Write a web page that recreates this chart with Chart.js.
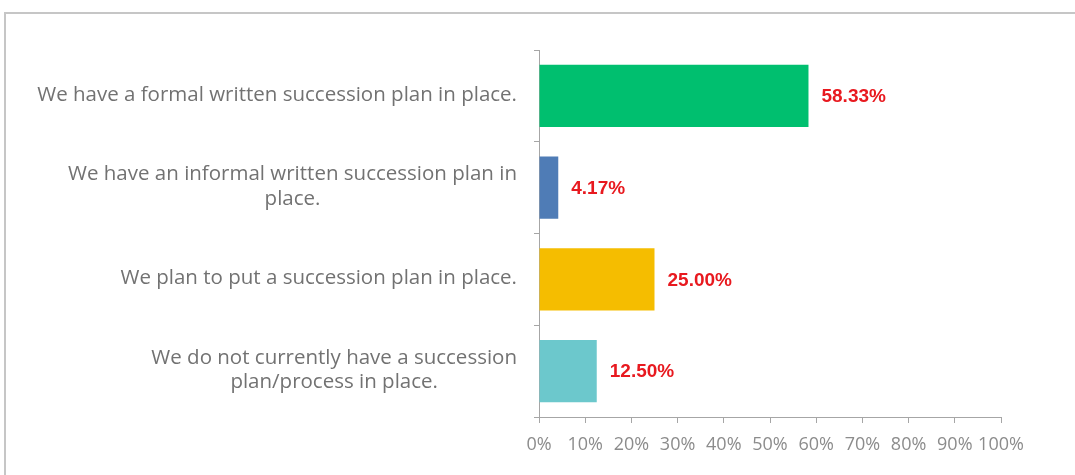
<!DOCTYPE html>
<html>
<head>
<meta charset="utf-8">
<script src="https://cdn.jsdelivr.net/npm/chart.js@4.4.1/dist/chart.umd.min.js"></script>
<style>
  html, body { margin: 0; padding: 0; background: #ffffff; }
  #wrap { position: relative; width: 1075px; height: 475px; }
  #frame {
    position: absolute; left: 4px; top: 12px; right: 0; bottom: 0;
    border-top: 2px solid #c6c6c6; border-left: 2px solid #c6c6c6;
    pointer-events: none;
  }
  canvas { position: absolute; left: 0; top: 0; }
</style>
</head>
<body>
<div id="wrap">
  <div id="frame"></div>
  <canvas id="chart" width="1075" height="475"></canvas>
</div>
<script>
// Survey responses on succession planning
const categories = [
  ["We have a formal written succession plan in place."],
  ["We have an informal written succession plan in", "place."],
  ["We plan to put a succession plan in place."],
  ["We do not currently have a succession", "plan/process in place."]
];
const shares = [58.33, 4.17, 25.00, 12.50];
const barColors = ["#00bf6f", "#4f7cb6", "#f5bd00", "#6cc8cc"];
const axisTicks = [0, 10, 20, 30, 40, 50, 60, 70, 80, 90, 100];

const FONT = '"Open Sans", Lato, sans-serif';
const CAT_FONT_SIZE = 20.5;
const CAT_LINE = 24.5;
const CAT_GAP = 22; // from axis line to right edge of category text

// Category text: block right-aligned against the axis, lines centred within the block
const categoryLabels = {
  id: 'categoryLabels',
  afterDraw(chart) {
    const ctx = chart.ctx;
    const yScale = chart.scales.y;
    const right = chart.chartArea.left - CAT_GAP;
    ctx.save();
    ctx.font = CAT_FONT_SIZE + 'px ' + FONT;
    ctx.fillStyle = '#727272';
    ctx.textAlign = 'center';
    ctx.textBaseline = 'middle';
    categories.forEach((lines, i) => {
      const cy = yScale.getPixelForValue(i) - 1;
      const blockW = Math.max(...lines.map(l => ctx.measureText(l).width));
      const cx = right - blockW / 2;
      const top = cy - (lines.length - 1) * CAT_LINE / 2;
      lines.forEach((l, k) => ctx.fillText(l, cx, top + k * CAT_LINE));
    });
    ctx.restore();
  }
};

// Writes each bar's value just past its end
const valueLabels = {
  id: 'valueLabels',
  afterDatasetsDraw(chart) {
    const ctx = chart.ctx;
    const meta = chart.getDatasetMeta(0);
    ctx.save();
    ctx.font = 'bold 19px "Liberation Sans", Arial, sans-serif';
    ctx.fillStyle = '#e8191f';
    ctx.textAlign = 'left';
    ctx.textBaseline = 'middle';
    meta.data.forEach((bar, i) => {
      ctx.fillText(shares[i].toFixed(2) + '%', bar.x + 13, bar.y + 1);
    });
    ctx.restore();
  }
};

new Chart(document.getElementById('chart'), {
  type: 'bar',
  data: {
    labels: categories,
    datasets: [{
      data: shares,
      backgroundColor: barColors,
      borderWidth: 0,
      barPercentage: 0.68,
      categoryPercentage: 1
    }]
  },
  options: {
    indexAxis: 'y',
    responsive: false,
    animation: false,
    devicePixelRatio: 1,
    layout: { padding: { top: 50, right: 74, bottom: 0, left: 0 } },
    plugins: { legend: { display: false }, tooltip: { enabled: false } },
    scales: {
      x: {
        min: 0, max: 100,
        afterBuildTicks(scale) { scale.ticks = axisTicks.map(v => ({ value: v })); },
        afterFit(scale) { scale.height = 58; },
        grid: { drawOnChartArea: false, drawTicks: true, tickLength: 6, color: '#a6a6a6' },
        border: { color: '#a6a6a6', width: 1 },
        ticks: {
          padding: 11,
          maxRotation: 0,
          minRotation: 0,
          autoSkip: false,
          color: '#8c8c8c',
          font: { family: FONT, size: 18 },
          callback: v => v + '%'
        }
      },
      y: {
        afterFit(scale) { scale.width = 539; },
        grid: { drawOnChartArea: false, drawTicks: true, tickLength: 5, offset: true, color: '#a6a6a6' },
        border: { color: '#a6a6a6', width: 1 },
        ticks: { display: false }
      }
    }
  },
  plugins: [valueLabels, categoryLabels]
});
</script>
</body>
</html>
